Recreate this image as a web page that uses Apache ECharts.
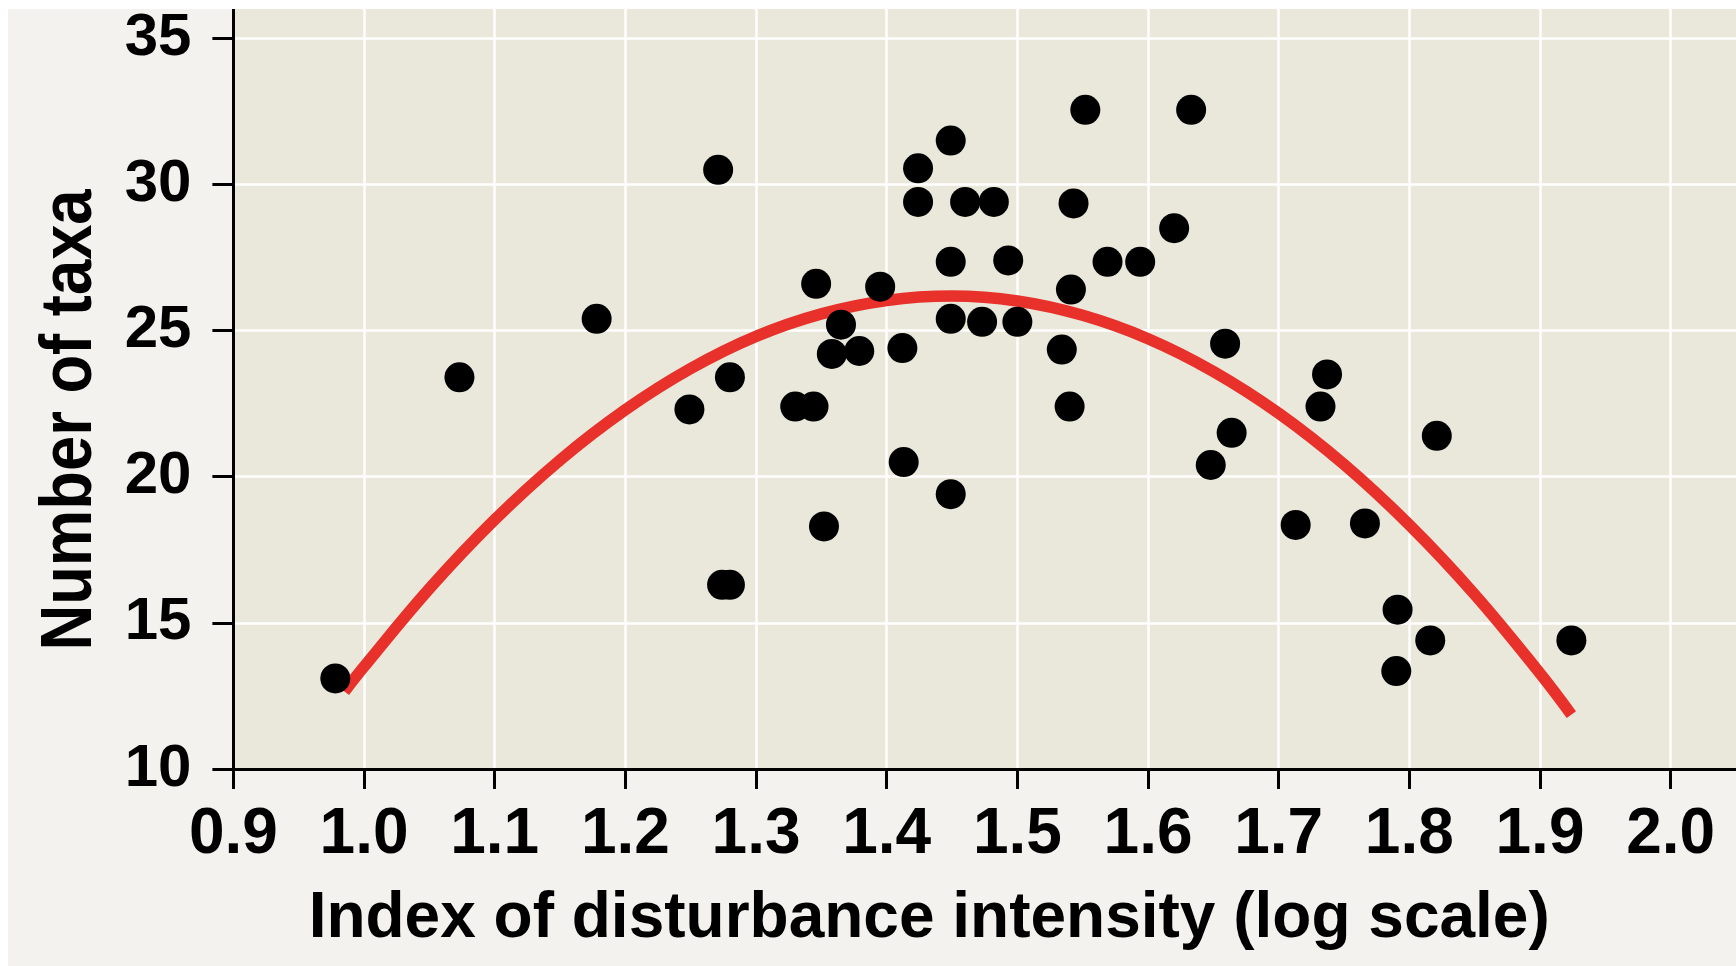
<!DOCTYPE html>
<html>
<head>
<meta charset="utf-8">
<script src="https://cdn.jsdelivr.net/npm/echarts@6/dist/echarts.min.js"></script>
<style>
  html, body { margin: 0; padding: 0; background: #ffffff; }
  #chart { position: absolute; left: 8px; top: 9px; width: 1728px; height: 957px; background: #f4f2ee; }
</style>
</head>
<body>
<div id="chart"></div>
<script>
// Index of disturbance intensity (log scale) for each site
const disturbance = [
  0.978, 1.073, 1.178, 1.249, 1.271, 1.274, 1.280, 1.280, 1.330, 1.344,
  1.346, 1.352, 1.358, 1.365, 1.379, 1.395, 1.412, 1.413, 1.424, 1.424,
  1.449, 1.449, 1.449, 1.449, 1.460, 1.473, 1.482, 1.493, 1.500, 1.534,
  1.540, 1.541, 1.543, 1.552, 1.569, 1.594, 1.620, 1.633, 1.648, 1.659,
  1.664, 1.713, 1.732, 1.737, 1.766, 1.791, 1.790, 1.816, 1.821, 1.924
];
// Number of taxa at each site
const taxa = [
  13.1, 23.4, 25.4, 22.3, 30.5, 16.3, 16.3, 23.4, 22.4, 22.4,
  26.6, 18.3, 24.2, 25.2, 24.3, 26.5, 24.4, 20.5, 30.55, 29.4,
  31.5, 27.35, 25.4, 19.4, 29.4, 25.3, 29.4, 27.4, 25.3, 24.35,
  22.4, 26.4, 29.35, 32.55, 27.35, 27.35, 28.5, 32.55, 20.4, 24.55,
  21.5, 18.35, 22.4, 23.5, 18.4, 15.45, 13.35, 14.4, 21.4, 14.4
];
// Fitted curve
const curveX = [0.985, 1.0, 1.05, 1.1, 1.15, 1.2, 1.25, 1.3, 1.35, 1.4, 1.45, 1.5, 1.55, 1.6, 1.65, 1.7, 1.75, 1.8, 1.85, 1.9, 1.924];
const curveY = [12.65, 13.5, 16.17, 18.53, 20.57, 22.29, 23.7, 24.8, 25.57, 26.03, 26.18, 26.01, 25.52, 24.72, 23.6, 22.17, 20.42, 18.35, 15.97, 13.27, 11.86];
// Tick labels
const xTicks = [0.9, 1.0, 1.1, 1.2, 1.3, 1.4, 1.5, 1.6, 1.7, 1.8, 1.9, 2.0];
const yTicks = [10, 15, 20, 25, 30, 35];

const xTitle = 'Index of disturbance intensity (log scale)';
const yTitle = 'Number of taxa';

const FONT = '"Liberation Sans", Arial, Helvetica, sans-serif';

const chart = echarts.init(document.getElementById('chart'), null, { renderer: 'canvas' });

const points = disturbance.map((x, i) => [x, taxa[i]]);
const curve = curveX.map((x, i) => [x, curveY[i]]);

chart.setOption({
  backgroundColor: '#f4f2ee',
  animation: false,
  grid: {
    left: 225.4, top: 0, right: 0, bottom: 197,
    show: true, backgroundColor: '#e9e8da', borderWidth: 0,
    containLabel: false, outerBoundsMode: 'none'
  },
  xAxis: {
    type: 'value', min: 0.9, max: 2.05, interval: 0.1,
    axisLine: { show: true, onZero: false, lineStyle: { color: '#000', width: 3 } },
    axisTick: { show: true, length: 20, lineStyle: { color: '#000', width: 3 }, customValues: xTicks },
    axisLabel: {
      customValues: xTicks, margin: 34,
      formatter: v => v.toFixed(1),
      color: '#000', fontSize: 64, fontWeight: 'bold', fontFamily: FONT
    },
    splitLine: { show: true, lineStyle: { color: '#ffffff', width: 2.5 } },
    name: xTitle, nameLocation: 'middle', nameGap: 118,
    nameTextStyle: { color: '#000', fontSize: 64, fontWeight: 'bold', fontFamily: FONT, padding: [0, 111, 0, 0] }
  },
  yAxis: {
    type: 'value', min: 10, max: 36, interval: 5,
    axisLine: { show: true, onZero: false, lineStyle: { color: '#000', width: 3 } },
    axisTick: { show: true, length: 21, lineStyle: { color: '#000', width: 3 }, customValues: yTicks },
    axisLabel: {
      customValues: yTicks, margin: 42,
      color: '#000', fontSize: 60, fontWeight: 'bold', fontFamily: FONT
    },
    splitLine: { show: true, lineStyle: { color: '#ffffff', width: 2.5 } }
  },
  graphic: [{
    type: 'text',
    x: 63, y: 411,
    rotation: Math.PI / 2,
    scaleX: 0.88,
    style: {
      text: yTitle,
      fill: '#000',
      font: 'bold 72px ' + FONT,
      align: 'center',
      verticalAlign: 'middle'
    }
  }],
  series: [
    {
      type: 'line', data: curve, smooth: 0.4, showSymbol: false, symbol: 'none',
      lineStyle: { color: '#e8312b', width: 11.5, cap: 'butt' }, z: 2, silent: true
    },
    {
      type: 'scatter', data: points, symbol: 'circle', symbolSize: 30,
      itemStyle: { color: '#000000', opacity: 1 }, z: 3
    }
  ]
});
</script>
</body>
</html>
